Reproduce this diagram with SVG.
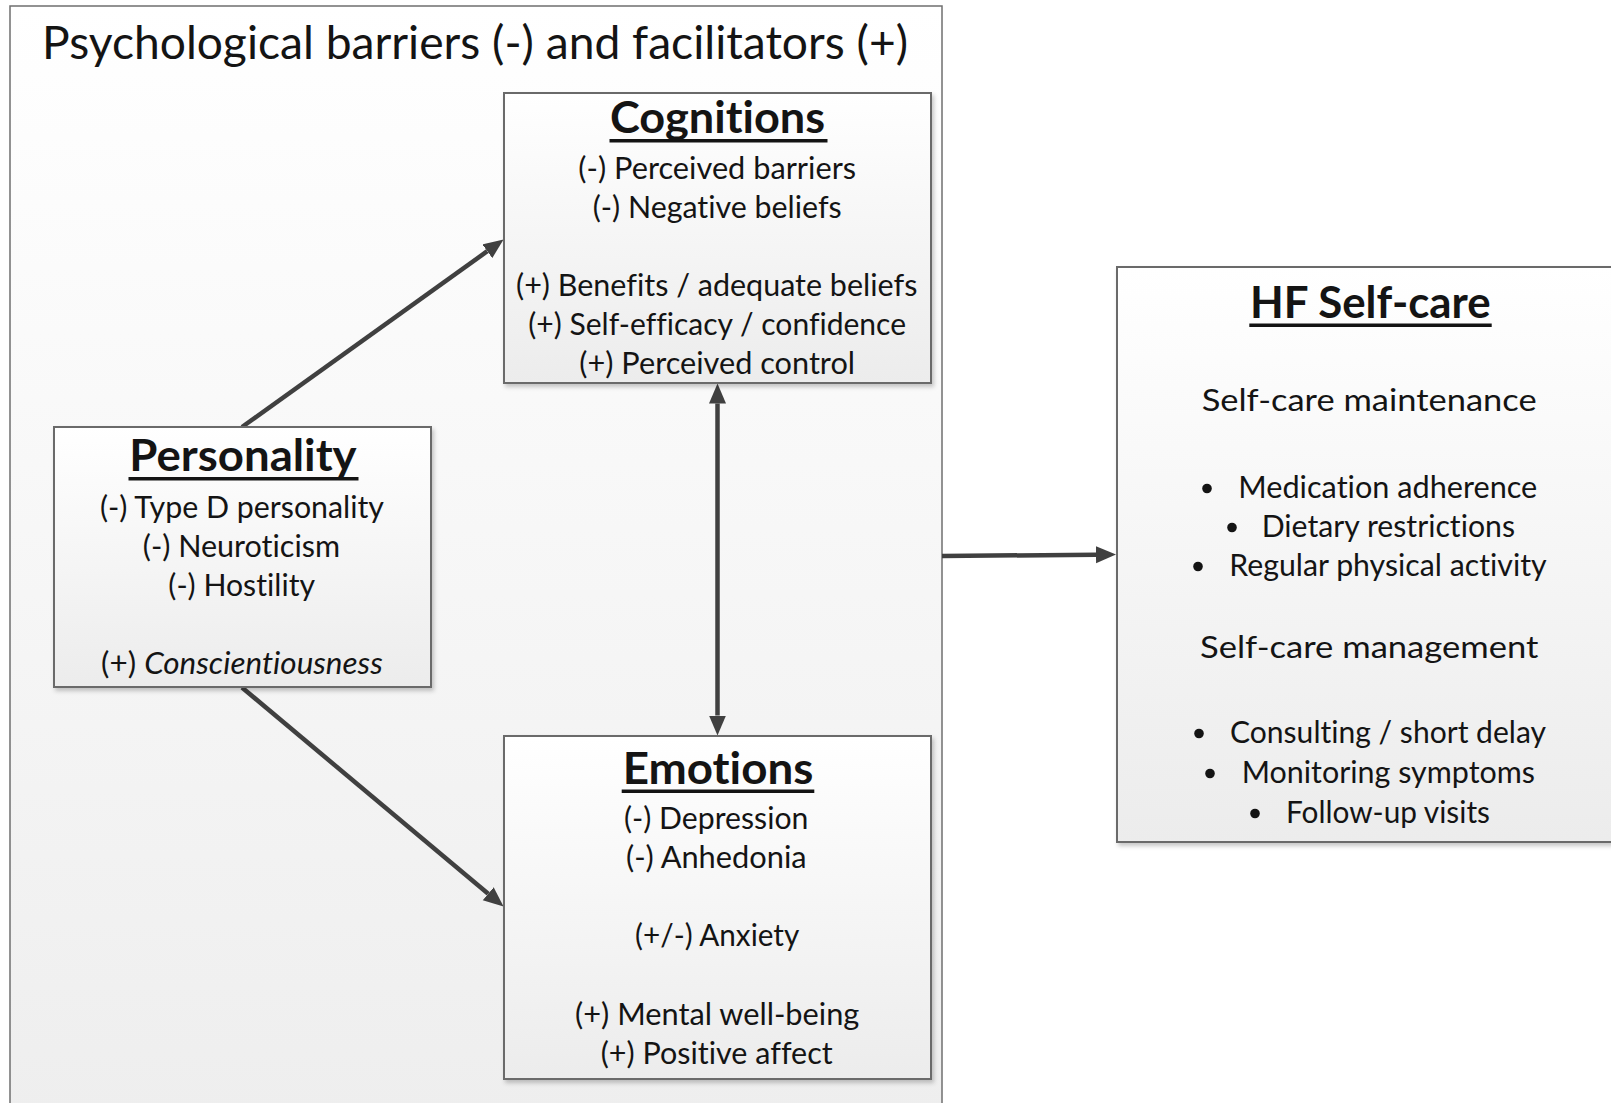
<svg xmlns="http://www.w3.org/2000/svg" width="1611" height="1103" viewBox="0 0 1611 1103">
  <defs>
    <linearGradient id="boxFill" x1="0" y1="0" x2="0" y2="1">
      <stop offset="0" stop-color="#ffffff"/>
      <stop offset="1" stop-color="#ececec"/>
    </linearGradient>
    <linearGradient id="panelFill" x1="0" y1="0" x2="0" y2="1">
      <stop offset="0" stop-color="#ffffff"/>
      <stop offset="1" stop-color="#eeeeee"/>
    </linearGradient>
    <filter id="shadow" x="-5%" y="-5%" width="115%" height="115%">
      <feDropShadow dx="2" dy="3" stdDeviation="2" flood-color="#000000" flood-opacity="0.22"/>
    </filter>
    <marker id="head" markerUnits="userSpaceOnUse" markerWidth="22" markerHeight="18" refX="0" refY="8.5" orient="auto-start-reverse">
      <path d="M0,0 L20,8.5 L0,17 Z" fill="#404040"/>
    </marker>
    <style>
      text { font-family: "Lato", "Open Sans", "Liberation Sans", sans-serif; fill: #141414; font-variant-ligatures: none; font-feature-settings: "liga" 0, "clig" 0, "dlig" 0; }
      .title { font-size: 46px; }
      .head { font-size: 44px; font-weight: bold; }
      .body { font-size: 31px; }
      .box { fill: url(#boxFill); stroke: #6a6a6a; stroke-width: 2; filter: url(#shadow); }
      .panel { fill: url(#panelFill); stroke: #6f6f6f; stroke-width: 1.5; }
      .uline { fill: #141414; }
      .bullet { fill: #141414; }
      .conn { stroke: #404040; stroke-width: 4.5; fill: none; }
    </style>
  </defs>

  <rect width="1611" height="1103" fill="#ffffff"/>

  <!-- psychological factors panel -->
  <g id="panel">
    <rect class="panel" x="10" y="6" width="932" height="1110"/>
    <text class="title" x="475" y="59" text-anchor="middle" textLength="866" lengthAdjust="spacingAndGlyphs">Psychological barriers (-) and facilitators (+)</text>
  </g>

  <!-- connectors -->
  <g id="connectors">
    <line class="conn" x1="242" y1="427" x2="487.3" y2="251.2" marker-end="url(#head)"/>
    <line class="conn" x1="242" y1="687.5" x2="488.2" y2="893.7" marker-end="url(#head)"/>
    <line class="conn" x1="717.5" y1="403.5" x2="717.5" y2="715.5" marker-start="url(#head)" marker-end="url(#head)"/>
    <line class="conn" x1="942" y1="556" x2="1096" y2="554.7" marker-end="url(#head)"/>
  </g>

  <!-- Cognitions -->
  <g id="cognitions">
    <rect class="box" x="504" y="93" width="427" height="290"/>
    <text class="head" x="717.5" y="133" text-anchor="middle" textLength="215" lengthAdjust="spacingAndGlyphs">Cognitions</text>
    <rect class="uline" x="609.5" y="139" width="218" height="3.5"/>
    <text class="body" x="717.2" y="178.5" text-anchor="middle" textLength="277.7" lengthAdjust="spacingAndGlyphs">(-) Perceived barriers</text>
    <text class="body" x="717.2" y="217.5" text-anchor="middle" textLength="249" lengthAdjust="spacingAndGlyphs">(-) Negative beliefs</text>
    <text class="body" x="716.7" y="295.5" text-anchor="middle" textLength="401.3" lengthAdjust="spacingAndGlyphs">(+) Benefits / adequate beliefs</text>
    <text class="body" x="717.2" y="334.5" text-anchor="middle" textLength="377.7" lengthAdjust="spacingAndGlyphs">(+) Self-efficacy / confidence</text>
    <text class="body" x="717.2" y="373.5" text-anchor="middle" textLength="275.7" lengthAdjust="spacingAndGlyphs">(+) Perceived control</text>
  </g>

  <!-- Personality -->
  <g id="personality">
    <rect class="box" x="54" y="427" width="377" height="260"/>
    <text class="head" x="243" y="471" text-anchor="middle" textLength="227.3" lengthAdjust="spacingAndGlyphs">Personality</text>
    <rect class="uline" x="128.5" y="477" width="230" height="3.5"/>
    <text class="body" x="242" y="518" text-anchor="middle" textLength="284" lengthAdjust="spacingAndGlyphs">(-) Type D personality</text>
    <text class="body" x="241.4" y="557" text-anchor="middle" textLength="197.3" lengthAdjust="spacingAndGlyphs">(-) Neuroticism</text>
    <text class="body" x="241.7" y="596" text-anchor="middle" textLength="146.7" lengthAdjust="spacingAndGlyphs">(-) Hostility</text>
    <text class="body" x="241.9" y="674" text-anchor="middle" textLength="281.7" lengthAdjust="spacingAndGlyphs">(+) <tspan font-style="italic">Conscientiousness</tspan></text>
  </g>

  <!-- Emotions -->
  <g id="emotions">
    <rect class="box" x="504" y="736" width="427" height="343"/>
    <text class="head" x="718" y="784" text-anchor="middle" textLength="190.7" lengthAdjust="spacingAndGlyphs">Emotions</text>
    <rect class="uline" x="621.7" y="789.5" width="192.6" height="3.5"/>
    <text class="body" x="716.2" y="828.5" text-anchor="middle" textLength="184.3" lengthAdjust="spacingAndGlyphs">(-) Depression</text>
    <text class="body" x="716.3" y="867.5" text-anchor="middle" textLength="180.7" lengthAdjust="spacingAndGlyphs">(-) Anhedonia</text>
    <text class="body" x="717.2" y="945.5" text-anchor="middle" textLength="164.3" lengthAdjust="spacingAndGlyphs">(+/-) Anxiety</text>
    <text class="body" x="717.2" y="1024.5" text-anchor="middle" textLength="284.3" lengthAdjust="spacingAndGlyphs">(+) Mental well-being</text>
    <text class="body" x="716.7" y="1063.5" text-anchor="middle" textLength="232" lengthAdjust="spacingAndGlyphs">(+) Positive affect</text>
  </g>

  <!-- HF Self-care -->
  <g id="hf-selfcare">
    <rect class="box" x="1117" y="267" width="506" height="575"/>
    <text class="head" x="1370.4" y="318" text-anchor="middle" textLength="240.7" lengthAdjust="spacingAndGlyphs">HF Self-care</text>
    <rect class="uline" x="1249.3" y="323.5" width="242.4" height="3.5"/>
    <text class="body" x="1369.2" y="410.5" text-anchor="middle" textLength="335" lengthAdjust="spacingAndGlyphs">Self-care maintenance</text>
    <circle class="bullet" cx="1207" cy="488.5" r="4.8"/>
    <text class="body" x="1238.3" y="497.5" textLength="299" lengthAdjust="spacingAndGlyphs">Medication adherence</text>
    <circle class="bullet" cx="1232" cy="527.5" r="4.8"/>
    <text class="body" x="1261.7" y="536.5" textLength="253.3" lengthAdjust="spacingAndGlyphs">Dietary restrictions</text>
    <circle class="bullet" cx="1198" cy="566.5" r="4.8"/>
    <text class="body" x="1229.3" y="575.5" textLength="317.3" lengthAdjust="spacingAndGlyphs">Regular physical activity</text>
    <text class="body" x="1369.2" y="657.5" text-anchor="middle" textLength="338.3" lengthAdjust="spacingAndGlyphs">Self-care management</text>
    <circle class="bullet" cx="1199" cy="733.5" r="4.8"/>
    <text class="body" x="1230" y="742.5" textLength="316" lengthAdjust="spacingAndGlyphs">Consulting / short delay</text>
    <circle class="bullet" cx="1210" cy="773.5" r="4.8"/>
    <text class="body" x="1241.7" y="782.5" textLength="293.3" lengthAdjust="spacingAndGlyphs">Monitoring symptoms</text>
    <circle class="bullet" cx="1255" cy="813.5" r="4.8"/>
    <text class="body" x="1286" y="822.5" textLength="204" lengthAdjust="spacingAndGlyphs">Follow-up visits</text>
  </g>
</svg>
